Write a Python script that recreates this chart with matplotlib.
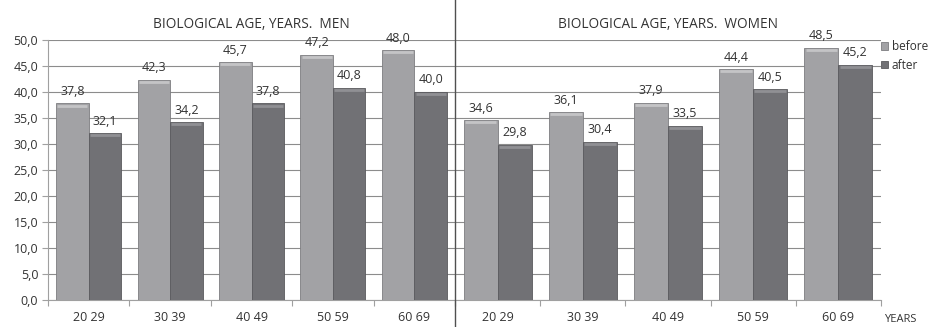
import matplotlib
matplotlib.use("Agg")
import matplotlib.pyplot as plt
import numpy as np
from matplotlib.lines import Line2D

plt.rcParams['font.family'] = ['Open Sans', 'DejaVu Sans']

categories = ["20 29", "30 39", "40 49", "50 59", "60 69"]
men_before = [37.8, 42.3, 45.7, 47.2, 48.0]
men_after = [32.1, 34.2, 37.8, 40.8, 40.0]
women_before = [34.6, 36.1, 37.9, 44.4, 48.5]
women_after = [29.8, 30.4, 33.5, 40.5, 45.2]
yticks = [0, 5, 10, 15, 20, 25, 30, 35, 40, 45, 50]
titles = ["BIOLOGICAL AGE, YEARS.  MEN", "BIOLOGICAL AGE, YEARS.  WOMEN"]
series_names = ["before", "after"]

W, H = 937, 327
fig = plt.figure(figsize=(W / 100, H / 100), dpi=100)
fig.patch.set_facecolor("white")

c_before = "#a2a2a5"
c_after = "#717175"
hl_before = "#c4c4c6"
hl_after = "#909094"
txt = "#333333"
grid_c = "#8c8c8c"

bottom = (H - 300) / H
top = (H - 40) / H
ax1 = fig.add_axes([48 / W, bottom, (455 - 48) / W, top - bottom])
ax2 = fig.add_axes([455 / W, bottom, (881 - 455) / W, top - bottom])

x = np.arange(len(categories))
bw = 0.4
fs = 9

def fmt(v):
    return f"{v:.1f}".replace(".", ",")

for ax, before, after, title in [(ax1, men_before, men_after, titles[0]),
                                  (ax2, women_before, women_after, titles[1])]:
    b1 = ax.bar(x - bw / 2, before, bw, color=c_before, edgecolor="#7d7d80",
                linewidth=0.6, zorder=3, label=series_names[0])
    b2 = ax.bar(x + bw / 2, after, bw, color=c_after, edgecolor="#5a5a5e",
                linewidth=0.6, zorder=3, label=series_names[1])
    for bars, vals, hl in [(b1, before, hl_before), (b2, after, hl_after)]:
        for r, v in zip(bars, vals):
            ax.annotate(fmt(v), (r.get_x() + r.get_width() / 2, v),
                        xytext=(0, 4), textcoords="offset points",
                        ha="center", va="bottom", fontsize=fs, color=txt,
                        annotation_clip=False, zorder=4)
            ax.plot([r.get_x() + 0.015, r.get_x() + r.get_width() - 0.015], [v - 0.4, v - 0.4],
                    color=hl, lw=2.0, zorder=4, solid_capstyle="butt")
    ax.set_xlim(-0.5, len(categories) - 0.5)
    ax.set_ylim(0, 50)
    ax.set_yticks(yticks)
    ax.yaxis.grid(True, color=grid_c, linewidth=0.8, zorder=0)
    ax.set_axisbelow(True)
    ax.set_xticks(x)
    ax.set_xticklabels(categories, fontsize=fs, color=txt)
    ax.set_xticks(np.arange(-0.5, len(categories) + 0.5, 1), minor=True)
    ax.tick_params(axis="x", which="major", length=0, pad=8)
    ax.tick_params(axis="x", which="minor", length=4, color="#a0a0a0", width=0.8)
    for s in ["top", "right"]:
        ax.spines[s].set_visible(False)
    ax.spines["bottom"].set_color("#a0a0a0")
    ax.spines["bottom"].set_linewidth(0.8)
    ax.set_title(title, fontsize=9.8, color=txt, pad=9)

ax1.set_yticklabels([fmt(v) for v in yticks], fontsize=fs, color=txt)
ax1.tick_params(axis="y", length=4, color="#a0a0a0", width=0.8, pad=3)
ax1.spines["left"].set_color("#a0a0a0")
ax1.spines["left"].set_linewidth(0.8)
ax2.spines["left"].set_visible(False)
ax2.tick_params(axis="y", left=False, labelleft=False)

# divider line
fig.add_artist(Line2D([455 / W, 455 / W], [0, 1], transform=fig.transFigure,
                      color="#505050", linewidth=1.0))

leg = ax2.legend(loc="upper left", bbox_to_anchor=(1.0, 1.0), frameon=False,
                 fontsize=8.5, handlelength=0.6, handleheight=0.6, handletextpad=0.3,
                 labelspacing=0.5, borderaxespad=0, borderpad=0)
for t in leg.get_texts():
    t.set_color(txt)

fig.text(884 / W, (H - 320) / H, "YEARS", fontsize=8, color=txt, va="center", ha="left")

fig.savefig("out.png", dpi=100)
